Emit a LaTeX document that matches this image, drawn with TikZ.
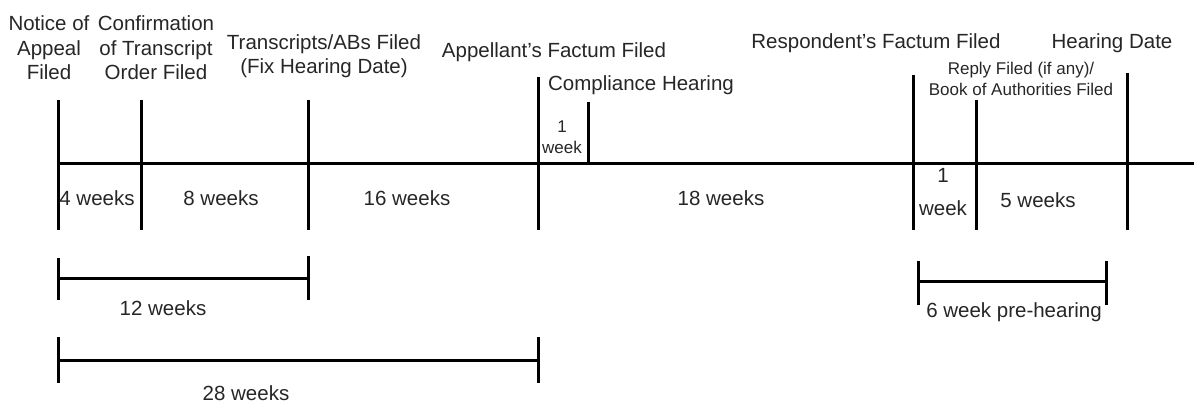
\documentclass[tikz,border=0pt]{standalone}
\usepackage{fontspec}
\setmainfont{Liberation Sans}
\begin{document}
\begin{tikzpicture}[x=1pt,y=-1pt,
  tl/.style={line width=3pt, black},
  lbl/.style={font=\fontsize{20.5}{24.5}\selectfont, align=center, inner sep=0pt, text=black!85},
  sml/.style={font=\fontsize{17}{21}\selectfont, align=center, inner sep=0pt, text=black!85}]
\useasboundingbox (0,0) rectangle (1194,403);
% timeline coordinates
\coordinate (L) at (58,164);
\coordinate (R) at (1194,164);
\foreach \n/\x/\t/\b in {v1/58/100/230, v2/141/100/230, v3/308/100/230, v4/538/77/230,
                         v5/588/102/164, v6/913/75/230, v7/976/100/230, v8/1127/73/230}{
  \coordinate (\n t) at (\x,\t);
  \coordinate (\n b) at (\x,\b);
}
\draw[tl] (L) -- (R);
\foreach \n in {v1,v2,v3,v4,v5,v6,v7,v8}{ \draw[tl] (\n t) -- (\n b); }
% top labels
\node[lbl] (n1) at (49,48) {Notice of\\Appeal\\Filed};
\node[lbl] (n2) at (156,48) {Confirmation\\of Transcript\\Order Filed};
\node[lbl] (n3) at (324,56) {Transcripts/ABs Filed\\(Fix Hearing Date)};
\node[lbl] (n4) at (554,52) {Appellant’s Factum Filed};
\node[lbl] (n5) at (641,85) {Compliance Hearing};
\node[sml] (n6) at (562,137) {1\\week};
\node[lbl] (n7) at (876,43) {Respondent’s Factum Filed};
\node[lbl] (n8) at (1112,43) {Hearing Date};
\node[sml] (n9) at (1021,79) {Reply Filed (if any)/\\Book of Authorities Filed};
% intervals
\node[lbl] (w4) at (97,198) {4 weeks};
\node[lbl] (w8) at (221,198) {8 weeks};
\node[lbl] (w16) at (407,198) {16 weeks};
\node[lbl] (w18) at (721,198) {18 weeks};
\node[lbl] (w1) at (943,192) {1\\[8pt]week};
\node[lbl] (w5) at (1038,200) {5 weeks};
% brackets
\coordinate (a1) at (58,279); \coordinate (a2) at (308,279);
\draw[tl] (a1) -- (a2);
\draw[tl] (58,258) -- (58,300);
\draw[tl] (308,256) -- (308,300);
\node[lbl] (s12) at (163,308) {12 weeks};
\coordinate (c1) at (58,360); \coordinate (c2) at (538,360);
\draw[tl] (c1) -- (c2);
\draw[tl] (58,337) -- (58,383);
\draw[tl] (538,337) -- (538,383);
\node[lbl] (s28) at (246,393) {28 weeks};
\coordinate (d1) at (918,282); \coordinate (d2) at (1106,282);
\draw[tl] (d1) -- (d2);
\draw[tl] (918,261) -- (918,305);
\draw[tl] (1106,261) -- (1106,305);
\node[lbl] (s6) at (1014,312) {6 week pre-hearing};
\end{tikzpicture}
\end{document}
